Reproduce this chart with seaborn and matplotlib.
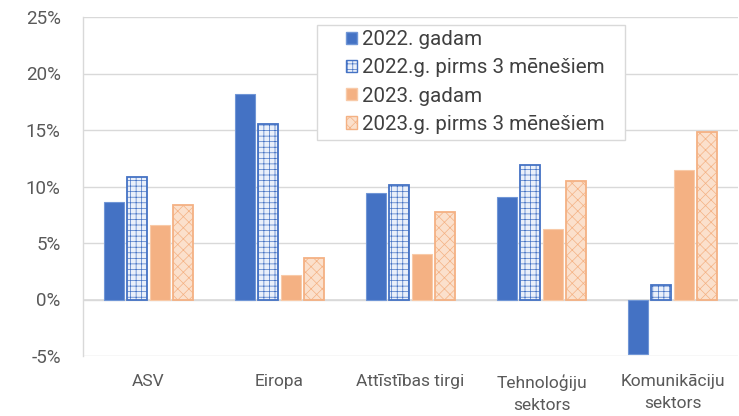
import matplotlib
matplotlib.use("Agg")
import matplotlib.pyplot as plt
import seaborn as sns
import pandas as pd
from matplotlib.ticker import FuncFormatter
from matplotlib.patches import Rectangle

categories = ["ASV", "Eiropa", "Attīstības tirgi", "Tehnoloģiju\nsektors", "Komunikāciju\nsektors"]
series_names = ["2022. gadam", "2022.g. pirms 3 mēnešiem", "2023. gadam", "2023.g. pirms 3 mēnešiem"]
v2022 = [8.6, 18.2, 9.4, 9.1, -4.8]
v2022_prev = [10.8, 15.5, 10.1, 11.9, 1.3]
v2023 = [6.55, 2.2, 4.0, 6.2, 11.45]
v2023_prev = [8.35, 3.7, 7.7, 10.5, 14.85]
y_ticks = [-5, 0, 5, 10, 15, 20, 25]

df = pd.DataFrame({
    "category": categories * 4,
    "series": [s for s in series_names for _ in categories],
    "value": v2022 + v2022_prev + v2023 + v2023_prev,
})

BLUE = "#4472C4"
ORANGE = "#F4B183"
BLUE_LIGHT = "#eaf0fa"
ORANGE_LIGHT = "#fbe0cc"

sns.set_theme(style="white")
plt.rcParams["font.family"] = ["Roboto", "DejaVu Sans"]
plt.rcParams["hatch.linewidth"] = 0.5

W, H = 739, 416
fig = plt.figure(figsize=(W / 100, H / 100), dpi=100)
ax = fig.add_axes([83 / W, 1 - 356 / H, 655 / W, 339 / H])

sns.barplot(data=df, x="category", y="value", hue="series", order=categories,
            hue_order=series_names, palette=[BLUE, BLUE, ORANGE, ORANGE],
            width=0.7, gap=0.13, saturation=1, errorbar=None, ax=ax, zorder=3)

styles = [
    dict(fc=BLUE, ec="#7096d6", hatch=None, lw=0.8),
    dict(fc=BLUE_LIGHT, ec=BLUE, hatch="+++", lw=1.3),
    dict(fc=ORANGE, ec="#f8caa8", hatch=None, lw=0.8),
    dict(fc=ORANGE_LIGHT, ec=ORANGE, hatch="xxx", lw=1.3),
]

n = len(categories)
for i, patch in enumerate(ax.patches[:4 * n]):
    st = styles[i // n]
    patch.set_facecolor(st["fc"])
    patch.set_edgecolor(st["ec"])
    patch.set_hatch(st["hatch"])
    patch.set_linewidth(st["lw"])

ax.set_ylim(-5, 25)
ax.set_yticks(y_ticks)
ax.yaxis.set_major_formatter(FuncFormatter(lambda v, p: f"{v:.0f}%"))
ax.set_xlim(-0.5, n - 0.5)
ax.set_xlabel("")
ax.set_ylabel("")
ax.grid(axis="y", color="#d9d9d9", linewidth=1.0, zorder=0)
ax.set_axisbelow(True)
for side in ["top", "right", "bottom"]:
    ax.spines[side].set_visible(False)
ax.spines["left"].set_color("#d9d9d9")
ax.spines["left"].set_linewidth(1.0)
ax.axhline(0, color="#d9d9d9", linewidth=1.2, zorder=1)
ax.tick_params(axis="y", length=0, labelsize=13.5, colors="#595959", pad=16)
ax.tick_params(axis="x", length=0, labelsize=12.5, colors="#595959", pad=13)
for lbl in ax.get_xticklabels():
    lbl.set_linespacing(1.55)

handles, labels = ax.get_legend_handles_labels()
if ax.get_legend() is not None:
    ax.get_legend().remove()

# legend box drawn as a separate framed rectangle
fig.patches.append(Rectangle((317 / W, 1 - 140 / H), 308 / W, 115 / H,
                             transform=fig.transFigure, facecolor="white",
                             edgecolor="#d9d9d9", linewidth=1.0, zorder=4))

leg = fig.legend(handles, labels, loc="upper left", bbox_to_anchor=(346 / W, 1 - 30 / H),
                 borderaxespad=0, fontsize=14.8, frameon=False,
                 handlelength=0.55, handleheight=0.55, handletextpad=0.25,
                 labelspacing=0.45, borderpad=0.0, labelcolor="#404040")
leg.set_zorder(5)
for p, st in zip(leg.get_patches(), styles):
    p.set_facecolor(st["fc"])
    p.set_edgecolor(st["ec"])
    p.set_hatch(st["hatch"])

fig.savefig("out.png", dpi=100)
